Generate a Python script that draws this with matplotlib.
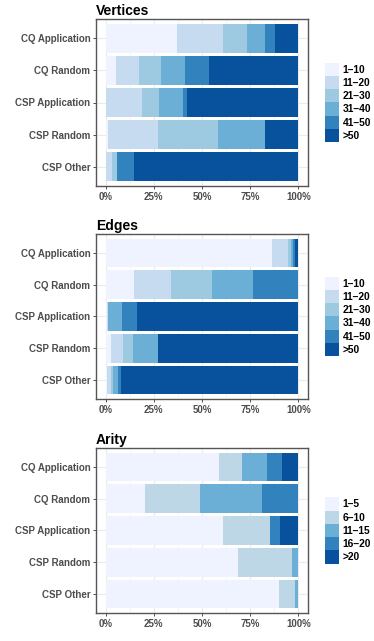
import numpy as np
import matplotlib
matplotlib.use("Agg")
import matplotlib.pyplot as plt
from matplotlib.patches import Patch

plt.rcParams['font.family'] = ['Liberation Sans', 'DejaVu Sans']
plt.rcParams['font.weight'] = 'bold'

# %% data (percent of instances per bucket)

categories = ["CQ Application", "CQ Random", "CSP Application", "CSP Random", "CSP Other"]

vert_labels = ["1\u201310", "11\u201320", "21\u201330", "31\u201340", "41\u201350", ">50"]
vert_cq_app = [37.1, 23.6, 12.5, 9.3, 5.6, 11.9]
vert_cq_rand = [5.5, 11.9, 11.5, 12.3, 12.2, 46.6]
vert_csp_app = [0.3, 18.6, 8.9, 12.2, 2.3, 57.7]
vert_csp_rand = [1.0, 26.1, 31.1, 24.3, 0.0, 17.5]
vert_csp_other = [0.3, 3.1, 2.4, 0.0, 8.8, 85.4]

edge_labels = ["1\u201310", "11\u201320", "21\u201330", "31\u201340", "41\u201350", ">50"]
edge_cq_app = [86.3, 8.5, 1.6, 0.7, 1.2, 1.7]
edge_cq_rand = [14.9, 19.1, 21.2, 21.3, 23.5, 0.0]
edge_csp_app = [0.5, 0.5, 0.0, 7.6, 7.9, 83.5]
edge_csp_rand = [2.6, 6.2, 5.6, 12.6, 0.0, 73.0]
edge_csp_other = [0.5, 2.1, 1.2, 2.4, 2.0, 91.8]

arity_labels = ["1\u20135", "6\u201310", "11\u201315", "16\u201320", ">20"]
arity_cq_app = [58.8, 11.8, 13.2, 7.6, 8.6]
arity_cq_rand = [20.4, 28.6, 32.1, 18.9, 0.0]
arity_csp_app = [61.0, 24.1, 0.3, 5.0, 9.6]
arity_csp_rand = [68.7, 28.2, 3.1, 0.0, 0.0]
arity_csp_other = [90.2, 8.3, 1.5, 0.0, 0.0]

blues6 = ["#EFF3FF", "#C6DBEF", "#9ECAE1", "#6BAED6", "#3182BD", "#08519C"]
blues5 = ["#EFF3FF", "#BDD7E7", "#6BAED6", "#3182BD", "#08519C"]

# %% figure

W, H = 374, 641
fig = plt.figure(figsize=(W / 100, H / 100), dpi=100)

txt_size = 7.0
leg_size = 7.4
grey_txt = "#4D4D4D"


def px_axes(left, right, top, bottom):
    return fig.add_axes([left / W, 1 - bottom / H, (right - left) / W, (bottom - top) / H])


def panel(ax, title, rows, labels, colors):
    data = np.array(rows)
    y = np.arange(len(categories))[::-1] + 1
    left = np.zeros(len(categories))
    for j in range(data.shape[1]):
        ax.barh(y, data[:, j], left=left, height=0.9, color=colors[j],
                edgecolor="none", zorder=2)
        left += data[:, j]

    ax.set_xlim(-5, 105)
    ax.set_ylim(0.4, len(categories) + 0.6)
    ax.set_xticks([0, 25, 50, 75, 100])
    ax.set_xticklabels(["0%", "25%", "50%", "75%", "100%"])
    ax.set_xticks([12.5, 37.5, 62.5, 87.5], minor=True)
    ax.set_yticks(y)
    ax.set_yticklabels(categories)
    ax.grid(which="major", color="#EBEBEB", linewidth=0.8, zorder=0)
    ax.grid(which="minor", axis="x", color="#F2F2F2", linewidth=0.5, zorder=0)
    ax.set_axisbelow(True)
    ax.tick_params(which="major", length=2.5, width=0.6, color="#333333",
                   labelsize=txt_size, labelcolor=grey_txt, pad=1.5)
    ax.tick_params(which="minor", length=0)
    for lab in ax.get_xticklabels() + ax.get_yticklabels():
        lab.set_fontweight("bold")
    for s in ax.spines.values():
        s.set_color("#555555")
        s.set_linewidth(1.0)
    ax.set_title(title, loc="left", fontsize=10, fontweight="bold", pad=3.0)

    handles = [Patch(facecolor=c, edgecolor="none") for c in colors]
    leg = ax.legend(handles, labels, loc="center left", bbox_to_anchor=(1.08, 0.5),
                    frameon=False, fontsize=leg_size, handlelength=1.4,
                    handleheight=1.6, labelspacing=0.0, handletextpad=0.3,
                    borderaxespad=0.0, borderpad=0.0)
    for t in leg.get_texts():
        t.set_fontweight("bold")


ax1 = px_axes(96, 308, 19, 186)
panel(ax1, "Vertices",
      [vert_cq_app, vert_cq_rand, vert_csp_app, vert_csp_rand, vert_csp_other],
      vert_labels, blues6)

ax2 = px_axes(96, 308, 234, 399)
panel(ax2, "Edges",
      [edge_cq_app, edge_cq_rand, edge_csp_app, edge_csp_rand, edge_csp_other],
      edge_labels, blues6)

ax3 = px_axes(96, 308, 448, 613)
panel(ax3, "Arity",
      [arity_cq_app, arity_cq_rand, arity_csp_app, arity_csp_rand, arity_csp_other],
      arity_labels, blues5)

fig.savefig("out.png", dpi=100)
